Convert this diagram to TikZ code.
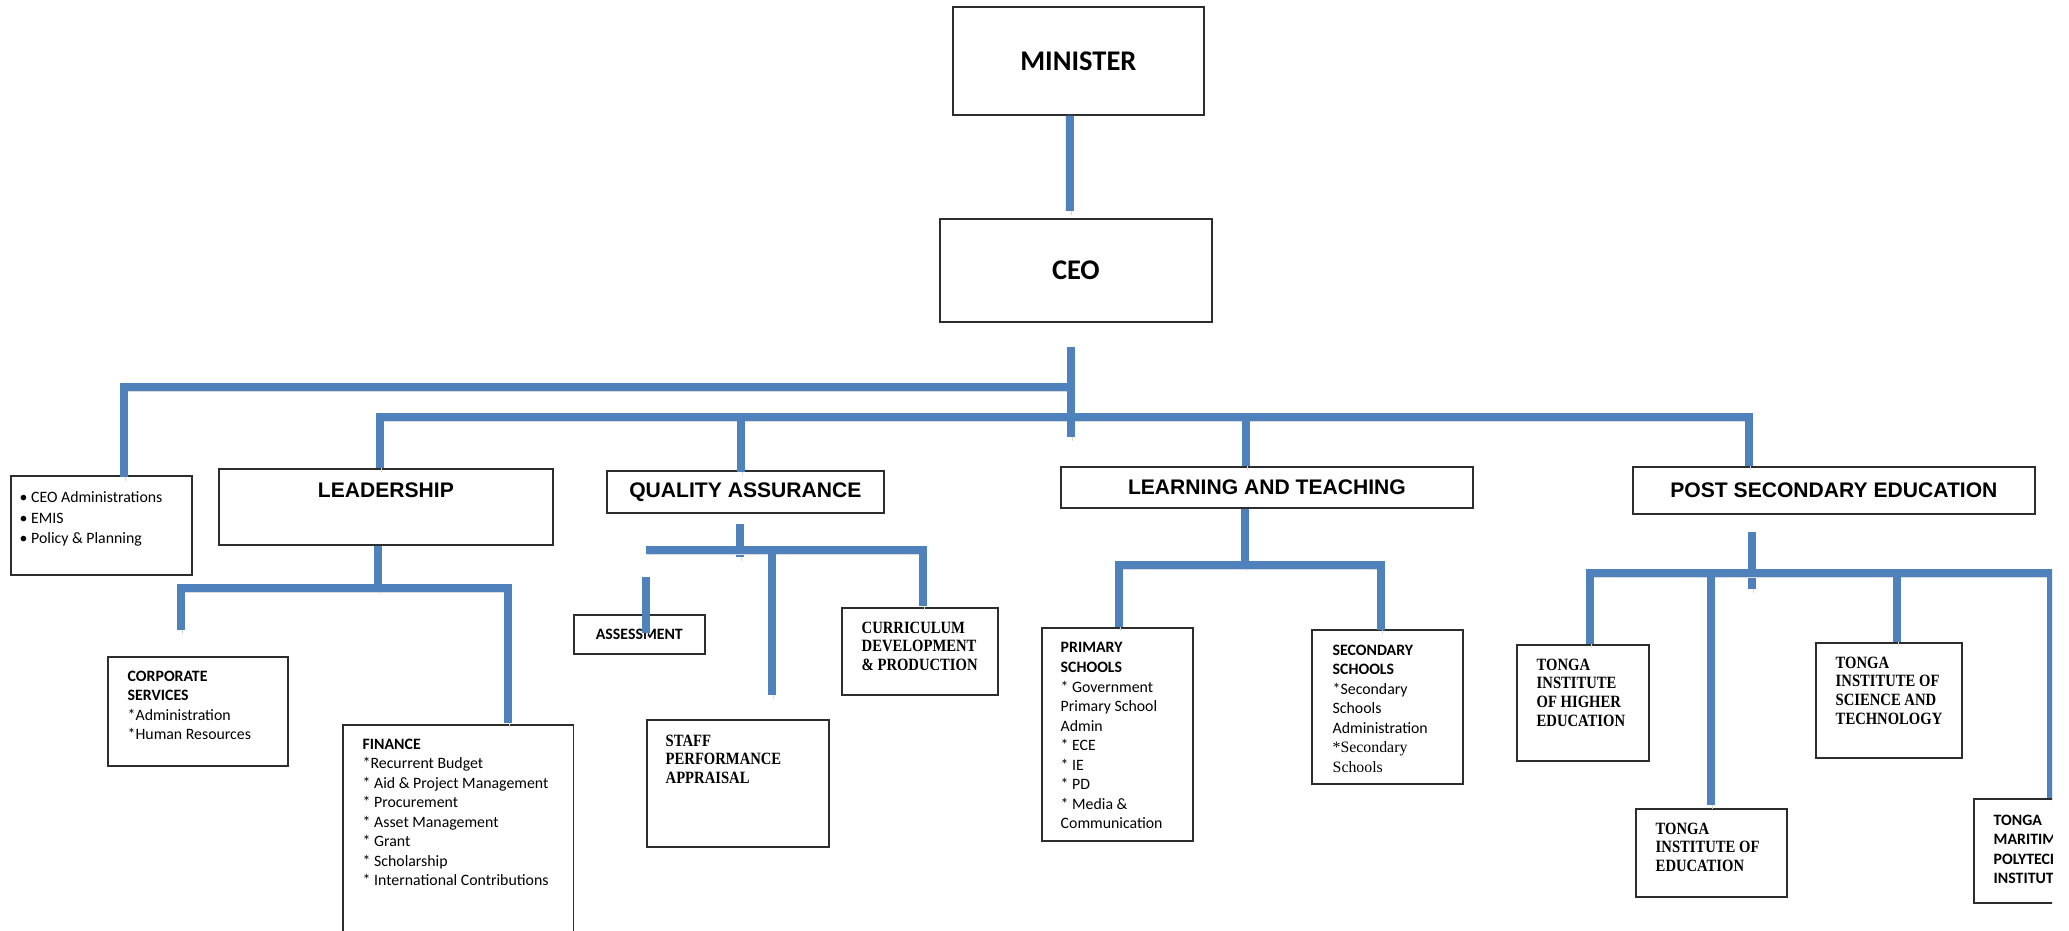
\documentclass[tikz,border=0pt]{standalone}
\usepackage{fontspec}
\setmainfont{Carlito}
\newfontfamily\headfont{Liberation Sans}
\newfontfamily\seriffont[FakeStretch=0.85]{Liberation Serif}
\newfontfamily\serifplain{Liberation Serif}
\usetikzlibrary{positioning, calc}

\definecolor{orgblue}{RGB}{79,129,189}
\definecolor{boxline}{RGB}{45,45,45}

\newcommand{\toptxt}{\bfseries\fontsize{8.1pt}{9.5pt}\selectfont}
\newcommand{\headtxt}{\headfont\bfseries\fontsize{6pt}{7pt}\selectfont}
\newcommand{\smalltxt}{\fontsize{4.5pt}{5.55pt}\selectfont}
\newcommand{\bulltxt}{\fontsize{4.5pt}{5.83pt}\selectfont}
\newcommand{\serbold}{\seriffont\bfseries\fontsize{4.9pt}{5.35pt}\selectfont}

\tikzset{
  orgbox/.style={
    rectangle, draw=boxline, line width=0.45pt, fill=white,
    inner sep=0pt, anchor=north west
  },
  topbox/.style={orgbox, font=\toptxt},
  headbox/.style={orgbox, font=\headtxt},
  boxtext/.style={anchor=north west, align=left, inner sep=0pt, font=\smalltxt},
  sertext/.style={boxtext, font=\serbold},
  bus/.style={
    draw=orgblue, line width=2.3pt, line join=miter,
    preaction={draw=black!15, transform canvas={shift={(0.4pt,-1.2pt)}}}
  }
}

\begin{document}
\begin{tikzpicture}[x=0.01cm, y=-0.01cm]
  \useasboundingbox (0,0) rectangle (2069,931);
  \begin{scope}
  \clip (0,0) rectangle (2052,931);

  % top
  \node[topbox, minimum width=2.51cm, minimum height=1.08cm] (minister) at (952,6) {MINISTER};
  \node[topbox, minimum width=2.72cm, minimum height=1.03cm] (ceo) at (939,218) {CEO};

  % second row
  \node[orgbox, minimum width=1.81cm, minimum height=0.99cm,
    label={[boxtext, font=\bulltxt, xshift=0.09cm, yshift=-0.16cm]north west:{\textbullet\ CEO Administrations\\ \textbullet\ EMIS\\ \textbullet\ Policy \& Planning}}]
    (ceoadmin) at (10,475) {};
  \node[headbox, minimum width=3.34cm, minimum height=0.76cm,
    label={[font=\headtxt, anchor=north, inner sep=0pt, yshift=-0.137cm]north:LEADERSHIP}]
    (leadership) at (218,468) {};
  \node[headbox, minimum width=2.77cm, minimum height=0.42cm] (qa) at (606,470) {QUALITY ASSURANCE};
  \node[headbox, minimum width=4.12cm, minimum height=0.41cm] (lt) at (1060,466) {LEARNING AND TEACHING};
  \node[headbox, minimum width=4.02cm, minimum height=0.47cm] (pse) at (1632,466) {POST SECONDARY EDUCATION};

  % leadership units
  \node[orgbox, minimum width=1.80cm, minimum height=1.09cm,
    label={[boxtext, xshift=0.20cm, yshift=-0.14cm]north west:{\textbf{CORPORATE}\\ \textbf{SERVICES}\\ *Administration\\ *Human Resources}}]
    (corp) at (107,656) {};
  \node[orgbox, minimum width=2.305cm, minimum height=2.6cm,
    label={[boxtext, xshift=0.20cm, yshift=-0.14cm]north west:{\textbf{FINANCE}\\ *Recurrent Budget\\ * Aid \& Project Management\\ * Procurement\\ * Asset Management\\ * Grant\\ * Scholarship\\ * International Contributions}}]
    (finance) at (342,724) {};

  % quality assurance units
  \node[orgbox, minimum width=1.31cm, minimum height=0.39cm, font=\smalltxt\bfseries] (assess) at (573,614) {ASSESSMENT};
  \node[orgbox, minimum width=1.82cm, minimum height=1.27cm,
    label={[sertext, xshift=0.19cm, yshift=-0.15cm]north west:{STAFF\\ PERFORMANCE\\ APPRAISAL}}]
    (staff) at (646,719) {};
  \node[orgbox, minimum width=1.56cm, minimum height=0.87cm,
    label={[sertext, xshift=0.20cm, yshift=-0.14cm]north west:{CURRICULUM\\ DEVELOPMENT\\ \& PRODUCTION}}]
    (curric) at (841,607) {};

  % learning and teaching units
  \node[orgbox, minimum width=1.51cm, minimum height=2.13cm,
    label={[boxtext, xshift=0.19cm, yshift=-0.15cm]north west:{\textbf{PRIMARY}\\ \textbf{SCHOOLS}\\ * Government\\ Primary School\\ Admin\\ * ECE\\ * IE\\ * PD\\ * Media \&\\ Communication}}]
    (primary) at (1041,627) {};
  \node[orgbox, minimum width=1.51cm, minimum height=1.54cm,
    label={[boxtext, xshift=0.21cm, yshift=-0.15cm]north west:{\textbf{SECONDARY}\\ \textbf{SCHOOLS}\\ *Secondary\\ Schools\\ Administration\\ {\serifplain *Secondary}\\ {\serifplain Schools}}}]
    (secondary) at (1311,629) {};

  % post secondary units
  \node[orgbox, minimum width=1.32cm, minimum height=1.16cm,
    label={[sertext, xshift=0.20cm, yshift=-0.14cm]north west:{TONGA\\ INSTITUTE\\ OF HIGHER\\ EDUCATION}}]
    (tihe) at (1516,644) {};
  \node[orgbox, minimum width=1.51cm, minimum height=0.88cm,
    label={[sertext, xshift=0.20cm, yshift=-0.14cm]north west:{TONGA\\ INSTITUTE OF\\ EDUCATION}}]
    (tie) at (1635,808) {};
  \node[orgbox, minimum width=1.46cm, minimum height=1.15cm,
    label={[sertext, xshift=0.20cm, yshift=-0.14cm]north west:{TONGA\\ INSTITUTE OF\\ SCIENCE AND\\ TECHNOLOGY}}]
    (tist) at (1815,642) {};
  \node[orgbox, minimum width=1.60cm, minimum height=1.04cm,
    label={[boxtext, xshift=0.20cm, yshift=-0.16cm]north west:{\textbf{TONGA}\\ \textbf{MARITIME}\\ \textbf{POLYTECHNIC}\\ \textbf{INSTITUTE}}}]
    (maritime) at (1973,798) {};

  % connectors
  \coordinate (ceoj) at ($(ceo.south)+(-5,64)$);
  \draw[bus] ($(minister.south)+(-8.5,0)$) -- ($(ceo.north)+(-6,-7)$);
  \draw[bus] ($(ceoadmin.north)+(22.5,2)$) |- (ceoj);
  \draw[bus] ($(leadership.north)+(-6,0)$) |- ($(pse.north)+(-85,-49)$) -- ($(pse.north)+(-85,0)$);
  \draw[bus] ($(ceo.south)+(-5,24)$) -- ($(ceo.south)+(-5,114)$);
  \draw[bus] ($(qa.north)+(-4.5,-53)$) -- ($(qa.north)+(-4.5,2)$);
  \draw[bus] ($(lt.north)+(-21,-50)$) -- ($(lt.north)+(-21,0)$);

  \draw[bus] ($(leadership.south)+(-8,0)$) -- ($(leadership.south)+(-8,44)$);
  \draw[bus] ($(corp.north)+(-17,-26)$) |- ($(finance.north)+(50,-136)$) -- ($(finance.north)+(50,-1)$);

  \draw[bus] ($(qa.south)+(-5.5,10)$) -- ($(qa.south)+(-5.5,43)$);
  \draw[bus] ($(qa.south)+(-99.5,36)$) -| ($(curric.north)+(3,-1)$);
  \draw[bus] ($(staff.north)+(34,-171)$) -- ($(staff.north)+(34,-24)$);
  \draw[bus] ($(assess.north)+(6.5,-37)$) -- ($(assess.north)+(6.5,19)$);

  \draw[bus] ($(lt.south)+(-22,0)$) -- ($(lt.south)+(-22,58)$);
  \draw[bus] ($(primary.north)+(1.5,0)$) |- ($(secondary.north)+(-6.5,-64)$) -- ($(secondary.north)+(-6.5,1)$);

  \draw[bus] ($(pse.south)+(-82,17)$) -- ($(pse.south)+(-82,74)$);
  \draw[bus] ($(tihe.north)+(7,0)$) |- ($(maritime.north)+(-3,-225)$) -- ($(maritime.north)+(-3,0)$);
  \draw[bus] ($(tie.north)+(-0.5,-235)$) -- ($(tie.north)+(-0.5,-3)$);
  \draw[bus] ($(tist.north)+(8,-69)$) -- ($(tist.north)+(8,0)$);
  \end{scope}
\end{tikzpicture}
\end{document}
